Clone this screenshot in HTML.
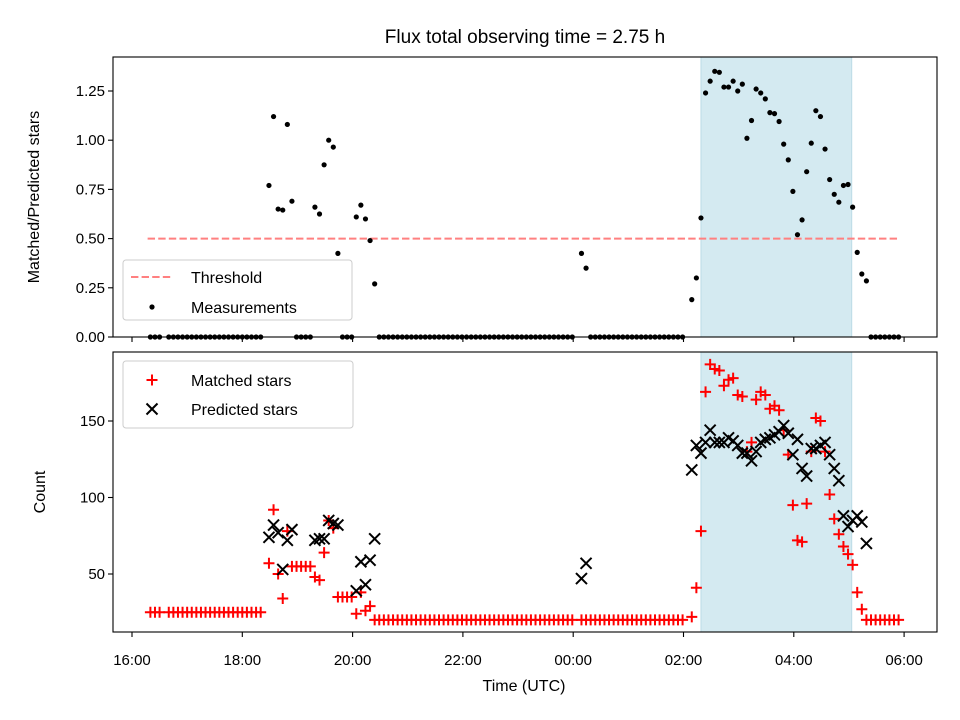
<!DOCTYPE html>
<html><head><meta charset="utf-8"><style>
html,body{margin:0;padding:0;background:#fff}
svg{display:block;font-family:"Liberation Sans","DejaVu Sans",sans-serif}
</style></head><body>
<svg id="chart" width="960" height="720" viewBox="0 0 960 720" xmlns="http://www.w3.org/2000/svg">
<rect x="0" y="0" width="960" height="720" fill="#fff"/>
<text x="525" y="43" font-size="19" text-anchor="middle">Flux total observing time = 2.75 h</text>
<text transform="translate(39,197) rotate(-90)" font-size="16" text-anchor="middle">Matched/Predicted stars</text>
<text transform="translate(45,492) rotate(-90)" font-size="16" text-anchor="middle">Count</text>
<text x="524" y="691" font-size="16" text-anchor="middle">Time (UTC)</text>
<g id="topPanel"></g>
<g id="botPanel"></g>
</svg>
<script>
const timeLabels = ["16:20","16:25","16:30","16:40","16:45","16:50","16:55","17:00","17:05","17:10","17:15","17:20","17:25","17:30","17:35","17:40","17:45","17:50","17:55","18:00","18:05","18:10","18:15","18:20",
"18:29","18:34","18:39","18:44","18:49","18:54","18:59","19:04","19:09","19:14","19:19","19:24","19:29","19:34","19:39","19:44","19:49","19:54","19:59","20:04","20:09","20:14","20:19","20:24",
"20:29","20:34","20:39","20:44","20:49","20:54","20:59","21:04","21:09","21:14","21:19","21:24","21:29","21:34","21:39","21:44","21:49","21:54","21:59","22:04","22:09","22:14","22:19","22:24","22:29","22:34","22:39","22:44","22:49","22:54","22:59","23:04","23:09","23:14","23:19","23:24","23:29","23:34","23:39","23:44","23:49","23:54","23:59",
"00:09","00:14",
"00:19","00:24","00:29","00:34","00:39","00:44","00:49","00:54","00:59","01:04","01:09","01:14","01:19","01:24","01:29","01:34","01:39","01:44","01:49","01:54","01:59",
"02:09","02:14","02:19","02:24","02:29","02:34","02:39","02:44","02:49","02:54","02:59","03:04","03:09","03:14","03:19","03:24","03:29","03:34","03:39","03:44","03:49","03:54","03:59","04:04","04:09","04:14","04:19","04:24","04:29","04:34","04:39","04:44","04:49","04:54","04:59","05:04","05:09","05:14","05:19",
"05:24","05:29","05:34","05:39","05:44","05:49","05:54"];
const ratioValues = [0,0,0,0,0,0,0,0,0,0,0,0,0,0,0,0,0,0,0,0,0,0,0,0,
0.77,1.12,0.65,0.645,1.08,0.69,0,0,0,0,0.66,0.625,0.875,1.0,0.965,0.425,0,0,0,0.61,0.67,0.6,0.49,0.27,
0,0,0,0,0,0,0,0,0,0,0,0,0,0,0,0,0,0,0,0,0,0,0,0,0,0,0,0,0,0,0,0,0,0,0,0,0,0,0,0,0,0,0,
0.425,0.35,
0,0,0,0,0,0,0,0,0,0,0,0,0,0,0,0,0,0,0,0,0,
0.19,0.30,0.605,1.24,1.30,1.35,1.345,1.27,1.27,1.30,1.25,1.285,1.01,1.1,1.26,1.24,1.21,1.14,1.135,1.095,0.98,0.90,0.74,0.52,0.595,0.84,0.985,1.15,1.12,0.955,0.80,0.725,0.685,0.77,0.775,0.66,0.43,0.32,0.285,
0,0,0,0,0,0,0];
const matchedValues = [25,25,25,25,25,25,25,25,25,25,25,25,25,25,25,25,25,25,25,25,25,25,25,25,
57,92,50,34,78,55,55,55,55,55,48,46,64,85,80,35,35,35,35,24,38,26,29,20,
20,20,20,20,20,20,20,20,20,20,20,20,20,20,20,20,20,20,20,20,20,20,20,20,20,20,20,20,20,20,20,20,20,20,20,20,20,20,20,20,20,20,20,
20,20,
20,20,20,20,20,20,20,20,20,20,20,20,20,20,20,20,20,20,20,20,20,
22,41,78,169,187,184,183,173,177,178,167,166,130,136,164,169,167,158,160,157,144,128,95,72,71,96,130,152,150,130,102,86,76,68,63,56,38,27,20,
20,20,20,20,20,20,20];
const N = null;
const predictedValues = [N,N,N,N,N,N,N,N,N,N,N,N,N,N,N,N,N,N,N,N,N,N,N,N,
74,82,77,53,72,79,N,N,N,N,72,73,73,85,83,82,N,N,N,39,58,43,59,73,
N,N,N,N,N,N,N,N,N,N,N,N,N,N,N,N,N,N,N,N,N,N,N,N,N,N,N,N,N,N,N,N,N,N,N,N,N,N,N,N,N,N,N,
47,57,
N,N,N,N,N,N,N,N,N,N,N,N,N,N,N,N,N,N,N,N,N,
118,134,129,136,144,136,136,136,139,137,134,129,129,124,130,136,138,139,141,143,147,142,128,138,119,114,132,132,134,136,128,119,111,88,81,85,88,84,70,
N,N,N,N,N,N,N];
const xTickLabels = ["16:00","18:00","20:00","22:00","00:00","02:00","04:00","06:00"];
const topYTicks = [0,0.25,0.5,0.75,1.0,1.25];
const botYTicks = [50,100,150];
const thresholdValue = 0.5;
const thresholdRange = ["16:17","05:55"];
const observingWindow = ["02:19","05:03"];

const NS = "http://www.w3.org/2000/svg";
function hrs(s){const [h,m]=s.split(":").map(Number);let v=h+m/60;if(v<12)v+=24;return v-16;}
const X0=113,X1=937;
function xs(s){return 132+hrs(s)*55.15;}
function yTop(v){return 337-v*196.8;}
function yBot(v){return 421-(v-150)*1.53;}
function mk(tag,attrs,parent){const e=document.createElementNS(NS,tag);for(const k in attrs)e.setAttribute(k,attrs[k]);parent.appendChild(e);return e;}
const gTop=document.getElementById('topPanel'), gBot=document.getElementById('botPanel');

[[gTop,57,337],[gBot,352,632]].forEach(([g,a,b])=>{
  const r=mk('rect',{x:xs(observingWindow[0]),y:a,width:xs(observingWindow[1])-xs(observingWindow[0]),height:b-a,fill:'#d4eaf1',stroke:'#bcdbe6','stroke-width':1},g);
  
  
});

const th=mk('line',{x1:xs(thresholdRange[0]),x2:xs(thresholdRange[1]),y1:yTop(thresholdValue),y2:yTop(thresholdValue),stroke:'#ff8080','stroke-width':2,'stroke-dasharray':'7.4,3.2'},gTop);



timeLabels.forEach((t,i)=>{
  const c=mk('circle',{cx:xs(t),cy:yTop(ratioValues[i]),r:2.6,fill:'#000'},gTop);
  
  
});

timeLabels.forEach((t,i)=>{
  const x=xs(t),y=yBot(matchedValues[i]);
  const p=mk('path',{d:`M${x-5.5},${y}H${x+5.5}M${x},${y-5.5}V${y+5.5}`,stroke:'#ff0000','stroke-width':2,fill:'none'},gBot);
  
  
});
timeLabels.forEach((t,i)=>{
  if(predictedValues[i]===null)return;
  const x=xs(t),y=yBot(predictedValues[i]);
  const p=mk('path',{d:`M${x-5.5},${y-5.5}L${x+5.5},${y+5.5}M${x-5.5},${y+5.5}L${x+5.5},${y-5.5}`,stroke:'#000','stroke-width':2,fill:'none'},gBot);
  
  
});

[[gTop,57,337],[gBot,352,632]].forEach(([g,a,b])=>{
  const f=mk('rect',{x:X0,y:a,width:X1-X0,height:b-a,fill:'none',stroke:'#000','stroke-width':1.1},g);
  
  
});
xTickLabels.forEach(l=>{
  const x=xs(l);
  [337,632].forEach(yb=>{
    const tk=mk('line',{x1:x,x2:x,y1:yb,y2:yb+5,stroke:'#000','stroke-width':1.1},yb===337?gTop:gBot);
    
    
  });
  const tx=mk('text',{x:x,y:665,'font-size':15,'text-anchor':'middle'},gBot);
  tx.textContent=l;
  
  
});
topYTicks.forEach(v=>{
  const y=yTop(v);
  const tk=mk('line',{x1:X0-5,x2:X0,y1:y,y2:y,stroke:'#000','stroke-width':1.1},gTop);
  
  
  const tx=mk('text',{x:X0-8,y:y+5,'font-size':15,'text-anchor':'end'},gTop);
  tx.textContent=v.toFixed(2);
  
  
});
botYTicks.forEach(v=>{
  const y=yBot(v);
  const tk=mk('line',{x1:X0-5,x2:X0,y1:y,y2:y,stroke:'#000','stroke-width':1.1},gBot);
  
  
  const tx=mk('text',{x:X0-8,y:y+5,'font-size':15,'text-anchor':'end'},gBot);
  tx.textContent=String(v);
  
  
});
</script>
<svg style="position:absolute;left:0;top:0" width="960" height="720" viewBox="0 0 960 720" xmlns="http://www.w3.org/2000/svg" font-family="Liberation Sans, DejaVu Sans, sans-serif">
<g>
<rect x="123" y="260" width="229" height="60" rx="3" fill="#fff" fill-opacity="0.8" stroke="#cccccc"/>
<line x1="131" x2="173" y1="277" y2="277" stroke="#ff8080" stroke-width="2" stroke-dasharray="7.4,3.2"/>
<text x="191" y="283" font-size="16">Threshold</text>
<circle cx="152" cy="307" r="2.6" fill="#000"/>
<text x="191" y="313" font-size="16">Measurements</text>
</g>
<g>
<rect x="123" y="361" width="230" height="67" rx="3" fill="#fff" fill-opacity="0.8" stroke="#cccccc"/>
<path d="M146.5,380H157.5M152,374.5V385.5" stroke="#f00" stroke-width="2"/>
<text x="191" y="386" font-size="16">Matched stars</text>
<path d="M146.5,403.5L157.5,414.5M146.5,414.5L157.5,403.5" stroke="#000" stroke-width="2"/>
<text x="191" y="415" font-size="16">Predicted stars</text>
</g>
</svg>
</body></html>
